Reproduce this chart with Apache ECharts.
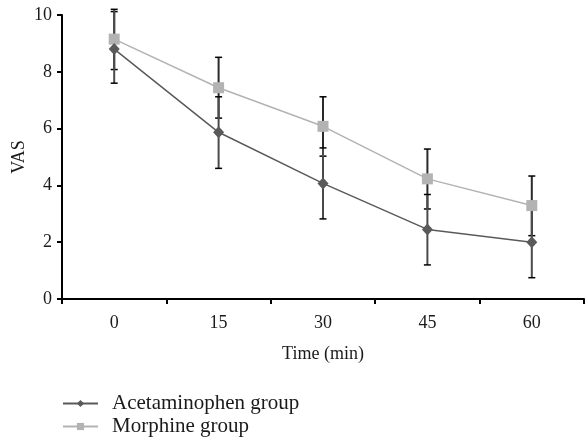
<!DOCTYPE html>
<html>
<head>
<meta charset="utf-8">
<script src="https://cdn.jsdelivr.net/npm/echarts@6/dist/echarts.min.js"></script>
<style>
html,body{margin:0;padding:0;background:#fff}
#chart{width:585px;height:437px}
</style>
</head>
<body>
<div id="chart"></div>
<script>
/* VAS por tiempo — acetaminofén vs morfina, medias ± DE */
const TIMES = ["0","15","30","45","60"];
const ACET_MEAN = [8.8, 5.87, 4.07, 2.45, 2.0];
const ACET_LOW  = [7.6, 4.6, 2.82, 1.2, 0.75];
const ACET_HIGH = [10.2, 7.12, 5.32, 3.68, 3.25];
const MORF_MEAN = [9.15, 7.44, 6.08, 4.23, 3.29];
const MORF_LOW  = [8.08, 6.37, 5.03, 3.17, 2.23];
const MORF_HIGH = [10.12, 8.51, 7.12, 5.28, 4.33];

const SERIF = "'Liberation Serif','DejaVu Serif',serif";
const INK = "#1a1a1a";
const $ = id => document.getElementById(id);

function errData(lo, hi){ return TIMES.map((t,i)=>[i, lo[i], hi[i]]); }

function errSeries(name, lo, hi, color){
  return {
    name, type:"custom", z:1, silent:true,
    data: errData(lo, hi),
    renderItem:(params, api)=>{
      const x = api.value(0);
      const a = api.coord([x, api.value(1)]), b = api.coord([x, api.value(2)]);
      const w = 3.5;
      return {type:"group", children:[
        {type:"line", shape:{x1:a[0],y1:a[1],x2:b[0],y2:b[1]}, style:{stroke:color,lineWidth:2}},
        {type:"line", shape:{x1:a[0]-w,y1:a[1],x2:a[0]+w,y2:a[1]}, style:{stroke:"#000",lineWidth:1.5}},
        {type:"line", shape:{x1:b[0]-w,y1:b[1],x2:b[0]+w,y2:b[1]}, style:{stroke:"#000",lineWidth:1.5}}
      ]};
    }
  };
}

const legendItem = (name, top) => ({
  data:[name], left:62, top, padding:0, itemWidth:35, itemHeight:9,
  textStyle:{fontFamily:SERIF, fontSize:21, color:INK, padding:[0,0,0,9]}
});

const chart = echarts.init($("chart"));
chart.setOption({
  animation:false,
  textStyle:{fontFamily:SERIF, color:INK},
  grid:{left:62, right:1, top:15, bottom:138, containLabel:false, outerBoundsMode:"none"},
  legend:[
    legendItem("Acetaminophen group", 393),
    legendItem("Morphine group", 416)
  ],
  xAxis:{
    type:"category", data:TIMES, boundaryGap:true,
    name:"Time (min)", nameLocation:"middle", nameGap:46,
    nameTextStyle:{fontFamily:SERIF, fontSize:18, color:INK},
    axisLine:{lineStyle:{color:"#000", width:2}},
    axisTick:{show:true, length:5, lineStyle:{color:"#000", width:2}},
    axisLabel:{fontFamily:SERIF, fontSize:18, color:INK, margin:15},
    splitLine:{show:false}
  },
  yAxis:{
    type:"value", min:0, max:10, interval:2,
    name:"VAS", nameLocation:"middle", nameGap:34, nameMoveOverlap:false,
    nameTextStyle:{fontFamily:SERIF, fontSize:18, color:INK},
    axisLine:{show:true, lineStyle:{color:"#000", width:2}},
    axisTick:{show:true, length:5, lineStyle:{color:"#000", width:2}},
    axisLabel:{fontFamily:SERIF, fontSize:18, color:INK, margin:10},
    splitLine:{show:false}
  },
  series:[
    errSeries("errM", MORF_LOW, MORF_HIGH, "#2a2a2a"),
    errSeries("errA", ACET_LOW, ACET_HIGH, "#4a4a4a"),
    {name:"Morphine group", type:"line", data:MORF_MEAN, z:3,
     symbol:"rect", symbolSize:11,
     lineStyle:{color:"#b3b3b3", width:1.5},
     itemStyle:{color:"#b3b3b3"}},
    {name:"Acetaminophen group", type:"line", data:ACET_MEAN, z:4,
     symbol:"diamond", symbolSize:[11,12],
     lineStyle:{color:"#5a5a5a", width:1.5},
     itemStyle:{color:"#5a5a5a"}}
  ]
});
</script>
</body>
</html>
